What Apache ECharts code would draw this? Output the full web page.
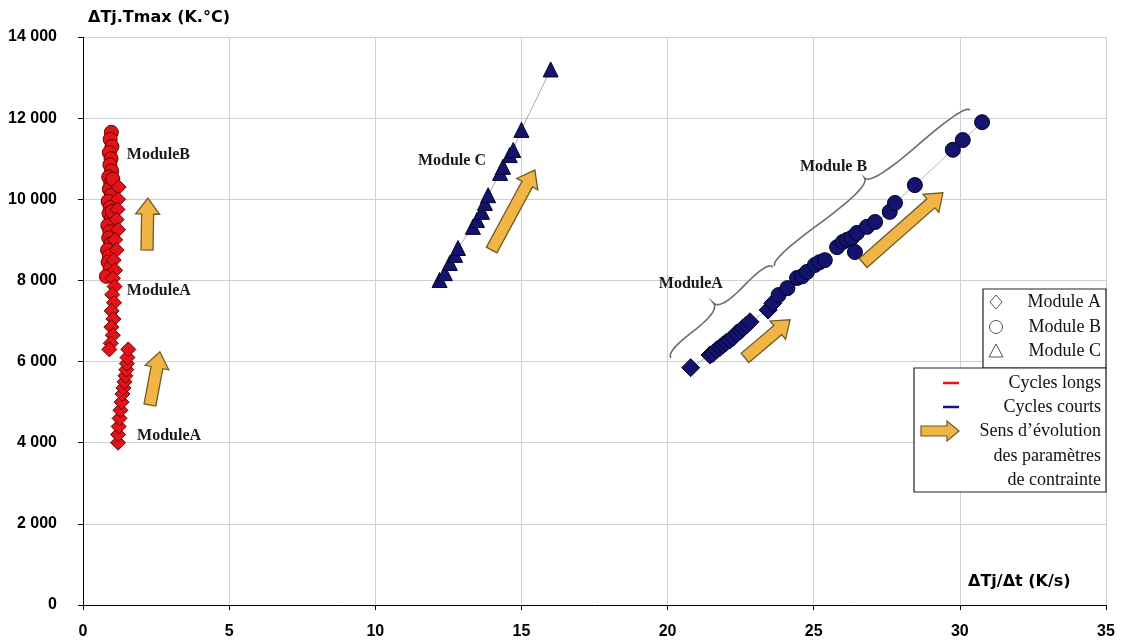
<!DOCTYPE html>
<html><head><meta charset="utf-8">
<script src="https://cdn.jsdelivr.net/npm/echarts@6/dist/echarts.min.js"></script>
<style>html,body{margin:0;padding:0;background:#fff}#c{width:1128px;height:643px}</style>
</head><body><div id="c"></div>
<script>
// ---- data (x: ΔTj/Δt K/s, y: ΔTj.Tmax K.°C) ----
const redModuleBCircles = [[0.97,11650],[0.93,11480],[0.99,11300],[0.9,11150],[0.96,11000],[0.92,10850],[0.98,10700],[0.88,10550],[0.95,10400],[0.9,10250],[0.97,10100],[0.86,9950],[0.93,9800],[0.89,9650],[0.96,9500],[0.85,9350],[0.92,9200],[0.88,9050],[0.95,8900],[0.84,8750],[0.9,8600],[0.86,8450],[0.93,8300],[0.8,8100],[1.0,9700],[1.02,10500]];
const redModuleADiamondsUpper = [[1.22,10300],[1.2,10000],[1.18,9750],[1.15,9500],[1.2,9250],[1.1,9000],[1.15,8750],[1.05,8500],[1.1,8250],[1.02,8050],[1.08,7850],[1.0,7650],[1.06,7450],[0.98,7250],[1.04,7050],[0.97,6850],[1.02,6650],[0.95,6450],[0.9,6300]];
const redModuleADiamondsLower = [[1.2,4000],[1.2,4200],[1.22,4400],[1.25,4600],[1.28,4800],[1.32,5000],[1.35,5200],[1.38,5350],[1.42,5500],[1.45,5650],[1.48,5800],[1.5,5950],[1.52,6100],[1.55,6300]];
const blueModuleCTriangles = [[12.2,8010],[12.38,8180],[12.55,8430],[12.73,8630],[12.83,8800],[13.34,9320],[13.48,9490],[13.65,9690],[13.75,9910],[13.86,10100],[14.27,10650],[14.37,10800],[14.6,11090],[14.72,11215],[15.0,11710],[16.0,13200]];
const blueModuleADiamonds = [[20.79,5850],[21.45,6160],[21.55,6200],[21.68,6290],[21.8,6350],[21.9,6410],[22.0,6470],[22.13,6530],[22.25,6600],[22.36,6700],[22.5,6760],[22.58,6830],[22.7,6900],[22.82,6980],[23.44,7270],[23.6,7440]];
const blueModuleBCircles = [[23.8,7640],[24.1,7810],[24.43,8060],[24.6,8100],[24.77,8210],[25.04,8380],[25.2,8450],[25.38,8500],[25.8,8820],[26.0,8950],[26.14,9000],[26.3,9050],[26.41,8700],[26.48,9170],[26.82,9320],[27.1,9440],[27.6,9690],[27.78,9910],[28.46,10350],[29.76,11220],[30.1,11460],[30.76,11900]];

const xTickValues = [0,5,10,15,20,25,30,35];
const yTickValues = [0,2000,4000,6000,8000,10000,12000,14000];

// annotations (data coordinates)
const arrowTailTip = [
  [[2.19,8750],[2.22,10030]],
  [[2.29,4930],[2.63,6240]],
  [[13.98,8750],[15.46,10720]],
  [[22.65,6090],[24.19,7030]],
  [[26.69,8430],[29.42,10160]]
];
const braceEnds = [
  [[20.12,6090],[23.6,8330]],
  [[23.67,8360],[30.35,12200]]
];
const labelTexts = ['ModuleB','ModuleA','ModuleA','Module C','Module B','ModuleA'];
const labelAnchors = [[1.5,11090],[1.5,7740],[1.85,4170],[11.46,10945],[24.53,10800],[19.7,7910]];

const RED = '#e0141a', RED_B = '#6a0000';
const NAVY = '#14146e', NAVY_B = '#03032a';

const chart = echarts.init(document.getElementById('c'), null, {renderer:'canvas'});
const fmt = v => { const s = String(v); return s.length > 3 ? s.slice(0, s.length-3) + ' ' + s.slice(-3) : s; };

const opt = {
  animation:false,
  backgroundColor:'#fff',
  grid:{left:83, right:22, top:37, bottom:38},
  xAxis:{type:'value', min:0, max:35, interval:5,
    axisLine:{show:true, onZero:false, lineStyle:{color:'#000', width:1}},
    axisTick:{show:true, inside:false, length:5, lineStyle:{color:'#000'}},
    axisLabel:{margin:19, fontFamily:'Liberation Sans, Arial', fontWeight:'bold', fontSize:16, color:'#000',
      formatter: v => xTickValues.includes(v) ? String(v) : ''},
    splitLine:{show:true, lineStyle:{color:'#cdd1d6', width:1}}
  },
  yAxis:{type:'value', min:0, max:14000, interval:2000,
    axisLine:{show:true, onZero:false, lineStyle:{color:'#000', width:1}},
    axisTick:{show:true, inside:false, length:5, lineStyle:{color:'#000'}},
    axisLabel:{margin:26, fontFamily:'Liberation Sans, Arial', fontWeight:'bold', fontSize:16, color:'#000',
      formatter: v => yTickValues.includes(v) ? fmt(v) : ''},
    splitLine:{show:true, lineStyle:{color:'#cdd1d6', width:1}}
  },
  series:[
    {type:'line', data:blueModuleCTriangles, symbol:'triangle', symbolSize:15, z:3,
      lineStyle:{color:'#a9a9a9', width:1}, itemStyle:{color:NAVY, borderColor:NAVY_B, borderWidth:1, opacity:1}},
    {type:'line', data:blueModuleADiamonds.concat(blueModuleBCircles), showSymbol:false, symbol:'none', z:2,
      lineStyle:{color:'#b5b5b5', width:1}},
    {type:'scatter', data:blueModuleADiamonds, symbol:'diamond', symbolSize:18, z:3,
      itemStyle:{color:NAVY, borderColor:NAVY_B, borderWidth:1, opacity:1}},
    {type:'scatter', data:blueModuleBCircles, symbol:'circle', symbolSize:15, z:3,
      itemStyle:{color:NAVY, borderColor:NAVY_B, borderWidth:1, opacity:1}},
    {type:'scatter', data:redModuleBCircles, symbol:'circle', symbolSize:14, z:3,
      itemStyle:{color:RED, borderColor:RED_B, borderWidth:1, opacity:1}},
    {type:'scatter', data:redModuleADiamondsUpper, symbol:'diamond', symbolSize:15, z:3,
      itemStyle:{color:RED, borderColor:RED_B, borderWidth:1, opacity:1}},
    {type:'scatter', data:redModuleADiamondsLower, symbol:'diamond', symbolSize:15, z:3,
      itemStyle:{color:RED, borderColor:RED_B, borderWidth:1, opacity:1}}
  ]
};
chart.setOption(opt);

function px(p){ return chart.convertToPixel({gridIndex:0}, p); }

function arrowPoly(t, p, sw, hw, hl){
  const dx=p[0]-t[0], dy=p[1]-t[1], L=Math.hypot(dx,dy);
  const ux=dx/L, uy=dy/L, nx=-uy, ny=ux;
  const bx=p[0]-ux*hl, by=p[1]-uy*hl;
  return [[t[0]+nx*sw,t[1]+ny*sw],[bx+nx*sw,by+ny*sw],[bx+nx*hw,by+ny*hw],[p[0],p[1]],
          [bx-nx*hw,by-ny*hw],[bx-nx*sw,by-ny*sw],[t[0]-nx*sw,t[1]-ny*sw]];
}
function quad(p0, c, p1, out){
  for (let i=0;i<=16;i++){ const t=i/16, a=(1-t)*(1-t), b=2*(1-t)*t, d=t*t;
    out.push([a*p0[0]+b*c[0]+d*p1[0], a*p0[1]+b*c[1]+d*p1[1]]); }
}
function bracePoints(a, b, w, q){
  const x1=a[0],y1=a[1],x2=b[0],y2=b[1];
  let dx=x1-x2, dy=y1-y2; const len=Math.hypot(dx,dy); dx/=len; dy/=len;
  const q1=[x1+q*w*dy, y1-q*w*dx];
  const q2=[(x1-.25*len*dx)+(1-q)*w*dy, (y1-.25*len*dy)-(1-q)*w*dx];
  const tip=[(x1-.5*len*dx)+w*dy, (y1-.5*len*dy)-w*dx];
  const q3=[x2+q*w*dy, y2-q*w*dx];
  const q4=[(x1-.75*len*dx)+(1-q)*w*dy, (y1-.75*len*dy)-(1-q)*w*dx];
  const r1=[2*q2[0]-q1[0], 2*q2[1]-q1[1]], r2=[2*q4[0]-q3[0], 2*q4[1]-q3[1]];
  const pts=[]; quad([x1,y1],q1,q2,pts); quad(q2,r1,tip,pts);
  const back=[]; quad([x2,y2],q3,q4,back); quad(q4,r2,tip,back);
  return pts.concat(back.reverse());
}

const ARROW_FILL = '#f1b545', ARROW_STROKE = '#6e5a2a';
const g = [];
arrowTailTip.forEach(([t,p])=>{
  g.push({type:'polygon', z:10, shape:{points:arrowPoly(px(t),px(p),6,12,16)},
    style:{fill:ARROW_FILL, stroke:ARROW_STROKE, lineWidth:1.3}});
});
braceEnds.forEach(([a,b])=>{
  g.push({type:'polyline', z:10, shape:{points:bracePoints(px(a),px(b),-13,0.6)},
    style:{fill:null, stroke:'#6b6b6b', lineWidth:1.6}});
});
labelTexts.forEach((s,i)=>{
  const p = px(labelAnchors[i]);
  g.push({type:'text', z:11, x:p[0], y:p[1], style:{text:s, fill:'#1a1a1a',
    font:'bold 16px "Liberation Serif", "Times New Roman", serif', textAlign:'left', textVerticalAlign:'middle'}});
});
// axis titles
g.push({type:'text', z:11, x:88, y:18, style:{text:'ΔTj.Tmax (K.°C)', fill:'#000', font:'bold 16px "DejaVu Sans", sans-serif', textVerticalAlign:'middle'}});
g.push({type:'text', z:11, x:968, y:582, style:{text:'ΔTj/Δt (K/s)', fill:'#000', font:'bold 16px "DejaVu Sans", sans-serif', textVerticalAlign:'middle'}});

// legend box 1 (marker shapes)
const LF = '18px "Liberation Serif", "Times New Roman", serif';
g.push({type:'rect', z:12, shape:{x:983, y:289, width:123, height:79}, style:{fill:'#fff', stroke:'#222', lineWidth:1.2}});
const shapeRows = [['Module A',302],['Module B',327],['Module C',351]];
g.push({type:'polygon', z:13, shape:{points:[[996,295],[1002,302],[996,309],[990,302]]}, style:{fill:null, stroke:'#555', lineWidth:1}});
g.push({type:'circle', z:13, shape:{cx:996, cy:327, r:6.5}, style:{fill:null, stroke:'#555', lineWidth:1}});
g.push({type:'polygon', z:13, shape:{points:[[996,344],[1003,357],[989,357]]}, style:{fill:null, stroke:'#555', lineWidth:1}});
shapeRows.forEach(([s,y])=>g.push({type:'text', z:13, x:1101, y:y, style:{text:s, fill:'#111', font:LF, textAlign:'right', textVerticalAlign:'middle'}}));

// legend box 2 (colours + arrow)
g.push({type:'rect', z:12, shape:{x:914, y:368, width:192, height:124}, style:{fill:'#fff', stroke:'#222', lineWidth:1.2}});
g.push({type:'line', z:13, shape:{x1:943, y1:383, x2:959, y2:383}, style:{stroke:'#e3141a', lineWidth:2.5}});
g.push({type:'line', z:13, shape:{x1:943, y1:407, x2:959, y2:407}, style:{stroke:'#16167a', lineWidth:2.5}});
g.push({type:'polygon', z:13, shape:{points:arrowPoly([921,431],[959,431],5,10,12)}, style:{fill:ARROW_FILL, stroke:ARROW_STROKE, lineWidth:1.2}});
const colRows = [['Cycles longs',383],['Cycles courts',407],['Sens d\u2019évolution',431],['des paramètres',456],['de contrainte',480]];
colRows.forEach(([s,y])=>g.push({type:'text', z:13, x:1101, y:y, style:{text:s, fill:'#111', font:LF, textAlign:'right', textVerticalAlign:'middle'}}));

chart.setOption({graphic:g});
</script></body></html>
